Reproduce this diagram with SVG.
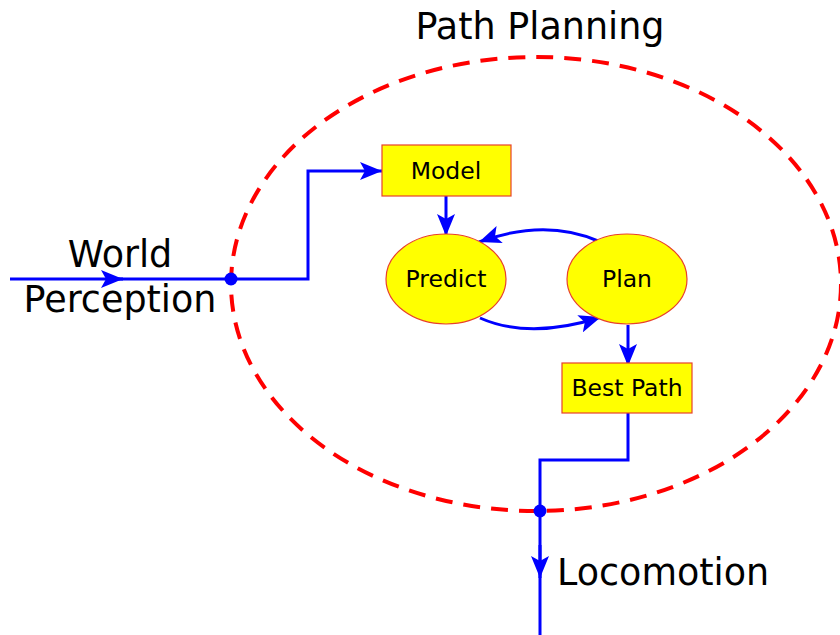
<svg xmlns="http://www.w3.org/2000/svg" width="840" height="635" viewBox="0 0 840 635">
  <style>
    .wire { fill: none; stroke: #0000ff; stroke-width: 3; }
    .box { fill: #ffff00; stroke: #e8412c; stroke-width: 1.2; }
    .lbl { font-family: "DejaVu Sans", sans-serif; font-size: 23.5px; fill: #000; text-anchor: middle; }
    .big { font-family: "DejaVu Sans", sans-serif; font-size: 36.5px; fill: #000; }
  </style>
  <defs>
    <marker id="arrow" viewBox="0 0 22 18" refX="22" refY="9" markerWidth="22" markerHeight="18" markerUnits="userSpaceOnUse" orient="auto">
      <path d="M0,0 L22,9 L0,18 L5,9 Z" fill="#0000ff"/>
    </marker>
  </defs>

  <!-- planning boundary -->
  <g id="path-planning">
    <ellipse cx="536" cy="284" rx="305" ry="227" fill="none" stroke="#ff0000" stroke-width="4" stroke-dasharray="17,11"/>
    <text class="big" x="540" y="39" text-anchor="middle" font-size="34">Path Planning</text>
  </g>

  <!-- connectors -->
  <g id="connectors">
    <path class="wire" d="M10,279 L123,279" marker-end="url(#arrow)"/>
    <path class="wire" d="M115,279 L308,279 L308,171 L382,171" marker-end="url(#arrow)"/>
    <path class="wire" d="M446,196 L446,236" marker-end="url(#arrow)"/>
    <path class="wire" d="M598,241 Q545,218 479,242" marker-end="url(#arrow)"/>
    <path class="wire" d="M480,318 Q530,340 601,317" marker-end="url(#arrow)"/>
    <path class="wire" d="M628,325 L628,366" marker-end="url(#arrow)"/>
    <path class="wire" d="M628,413 L628,460 L540,460 L540,635"/>
    <path class="wire" d="M540,545 L540,578" marker-end="url(#arrow)"/>
    <circle cx="231" cy="279" r="6.5" fill="#0000ff"/>
    <circle cx="540" cy="511" r="6.5" fill="#0000ff"/>
  </g>

  <g id="world-perception">
    <text class="big" x="120" y="267" text-anchor="middle">World</text>
    <text class="big" x="120" y="312" text-anchor="middle">Perception</text>
  </g>

  <g id="model">
    <rect class="box" x="382" y="145" width="129" height="51"/>
    <text class="lbl" x="446" y="179">Model</text>
  </g>

  <g id="predict">
    <ellipse class="box" cx="446" cy="279" rx="60" ry="45"/>
    <text class="lbl" x="446" y="287">Predict</text>
  </g>

  <g id="plan">
    <ellipse class="box" cx="627" cy="279" rx="60" ry="45"/>
    <text class="lbl" x="627" y="287">Plan</text>
  </g>

  <g id="best-path">
    <rect class="box" x="562" y="363" width="130" height="50"/>
    <text class="lbl" x="627" y="396">Best Path</text>
  </g>

  <g id="locomotion">
    <text class="big" x="557" y="585">Locomotion</text>
  </g>
</svg>
